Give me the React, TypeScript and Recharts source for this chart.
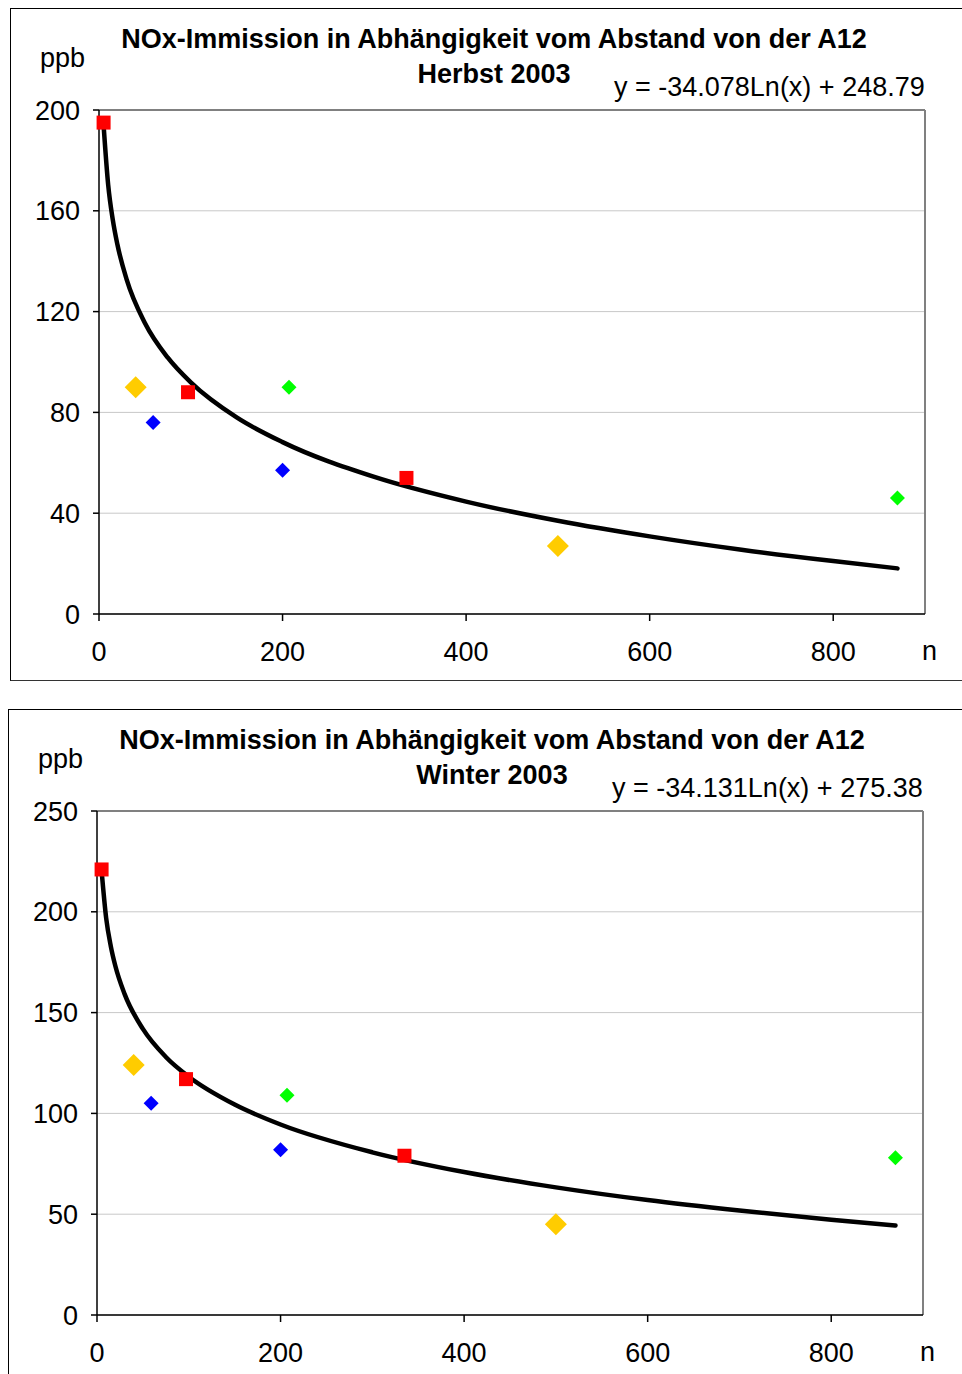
import {
  ComposedChart,
  Scatter,
  Line,
  XAxis,
  YAxis,
  CartesianGrid,
  ReferenceLine,
} from 'recharts';

// distances (m) of the measuring points, per colour group
const redX = [5, 97, 335];
const yellowX = [40, 500];
const blueX = [59, 200];
const greenX = [207, 870];

// NOx (ppb) autumn 2003
const herbstRed = [195, 88, 54];
const herbstYellow = [90, 27];
const herbstBlue = [76, 57];
const herbstGreen = [90, 46];

// NOx (ppb) winter 2003
const winterRed = [221, 117, 79];
const winterYellow = [124, 45];
const winterBlue = [105, 82];
const winterGreen = [109, 78];

// log trend line
const trendX = [5, 10, 15, 20, 30, 50, 75, 100, 150, 200, 300, 400, 500, 600, 700, 800, 870];
const herbstTrend = [193.9, 170.3, 156.5, 146.7, 132.9, 115.5, 101.7, 91.9, 78.0, 68.2, 54.4, 44.6, 37.0, 30.8, 25.5, 21.0, 18.1];
const winterTrend = [220.4, 196.8, 183.0, 173.1, 159.3, 141.9, 128.0, 118.2, 104.4, 94.5, 80.7, 70.9, 63.3, 57.0, 51.8, 47.2, 44.4];

const xTicks = [0, 200, 400, 600, 800];
const herbstTicks = [0, 40, 80, 120, 160, 200];
const winterTicks = [0, 50, 100, 150, 200, 250];

const FONT = '"Liberation Sans", Arial, sans-serif';

const pts = (xs: number[], ys: number[]) => xs.map((x, i) => ({ x, y: ys[i] }));

const Square = (p: any) => (
  <rect x={p.cx - 7} y={p.cy - 7} width={14} height={14} fill="#ff0000" />
);
const diamond = (color: string, r: number) => (p: any) => (
  <polygon
    points={`${p.cx},${p.cy - r} ${p.cx + r},${p.cy} ${p.cx},${p.cy + r} ${p.cx - r},${p.cy}`}
    fill={color}
  />
);

interface ChartProps {
  dx: number;
  dy: number;
  season: string;
  equation: string;
  ticks: number[];
  red: number[];
  yellow: number[];
  blue: number[];
  green: number[];
  trend: number[];
}

function NoxChart({ dx, dy, season, equation, ticks, red, yellow, blue, green, trend }: ChartProps) {
  const yMax = ticks[ticks.length - 1];
  const text = { position: 'absolute' as const, fontFamily: FONT, color: '#000', whiteSpace: 'nowrap' as const };
  return (
    <div style={{ position: 'absolute', left: dx, top: dy, width: 1000, height: 700 }}>
      <div
        style={{
          position: 'absolute', left: 10, top: 8, width: 1000, height: 671,
          borderLeft: '1.5px solid #000', borderTop: '1.5px solid #000', borderBottom: '1.5px solid #333',
        }}
      />
      <div style={{ ...text, left: 294, width: 400, top: 22, lineHeight: '35px', fontSize: 27, fontWeight: 'bold', textAlign: 'center' }}>
        <div style={{ marginLeft: -200, width: 800 }}>NOx-Immission in Abhängigkeit vom Abstand von der A12</div>
        <div>{season}</div>
      </div>
      <div style={{ ...text, left: 40, top: 43, fontSize: 27, lineHeight: '30px' }}>ppb</div>
      <div style={{ ...text, left: 614, top: 72, fontSize: 27, lineHeight: '30px' }}>{equation}</div>
      <div style={{ ...text, left: 922, top: 636, fontSize: 27, lineHeight: '30px' }}>n</div>
      <ComposedChart
        width={962}
        height={700}
        margin={{ top: 110, right: 37, bottom: 56, left: 39 }}
        style={{ position: 'absolute', left: 0, top: 0 }}
      >
        <CartesianGrid vertical={false} stroke="#c8c8c8" strokeWidth={1} />
        <XAxis
          type="number"
          dataKey="x"
          domain={[0, 900]}
          ticks={xTicks}
          height={30}
          stroke="#000"
          strokeWidth={1.5}
          tickSize={7}
          tickMargin={21}
          tick={{ fontSize: 27, fill: '#000', fontFamily: FONT }}
        />
        <YAxis
          type="number"
          dataKey="y"
          domain={[0, yMax]}
          ticks={ticks}
          width={60}
          stroke="#000"
          strokeWidth={1.5}
          tickSize={6}
          tickMargin={13}
          tick={{ fontSize: 27, fill: '#000', fontFamily: FONT }}
        />
        <ReferenceLine y={yMax} stroke="#808080" strokeWidth={2} />
        <ReferenceLine x={900} stroke="#808080" strokeWidth={2} />
        <Scatter data={pts(yellowX, yellow)} shape={diamond('#ffcc00', 11)} isAnimationActive={false} />
        <Scatter data={pts(blueX, blue)} shape={diamond('#0000ff', 7.5)} isAnimationActive={false} />
        <Scatter data={pts(greenX, green)} shape={diamond('#00ff00', 7.5)} isAnimationActive={false} />
        <Scatter data={pts(redX, red)} shape={Square} isAnimationActive={false} />
        <Line
          data={pts(trendX, trend)}
          dataKey="y"
          type="monotone"
          stroke="#000"
          strokeWidth={4.5}
          strokeLinecap="round"
          dot={false}
          activeDot={false}
          isAnimationActive={false}
        />
      </ComposedChart>
    </div>
  );
}

export default function App() {
  return (
    <div style={{ position: 'fixed', left: 0, top: 0, width: 962, height: 1374, overflow: 'hidden', background: '#fff' }}>
      <NoxChart
        dx={0}
        dy={0}
        season="Herbst 2003"
        equation="y = -34.078Ln(x) + 248.79"
        ticks={herbstTicks}
        red={herbstRed}
        yellow={herbstYellow}
        blue={herbstBlue}
        green={herbstGreen}
        trend={herbstTrend}
      />
      <NoxChart
        dx={-2}
        dy={701}
        season="Winter 2003"
        equation="y = -34.131Ln(x) + 275.38"
        ticks={winterTicks}
        red={winterRed}
        yellow={winterYellow}
        blue={winterBlue}
        green={winterGreen}
        trend={winterTrend}
      />
    </div>
  );
}
